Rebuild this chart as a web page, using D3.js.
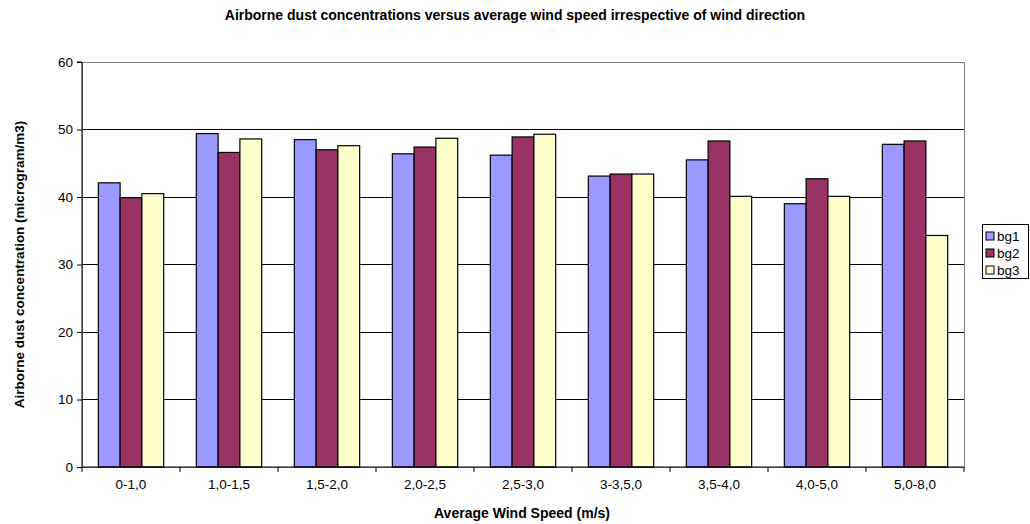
<!DOCTYPE html>
<html>
<head>
<meta charset="utf-8">
<script src="https://cdn.jsdelivr.net/npm/d3@7"></script>
<style>
  body { margin: 0; background: #fff; }
  svg { font-family: "Liberation Sans", Arial, sans-serif; }
</style>
</head>
<body>
<svg id="chart" width="1030" height="524"></svg>
<script>
// categories and series values
const categories = ["0-1,0", "1,0-1,5", "1,5-2,0", "2,0-2,5", "2,5-3,0", "3-3,5,0", "3,5-4,0", "4,0-5,0", "5,0-8,0"];
const seriesNames = ["bg1", "bg2", "bg3"];
const bg1 = [42.1, 49.4, 48.5, 46.4, 46.2, 43.1, 45.5, 39.0, 47.8];
const bg2 = [39.9, 46.6, 47.0, 47.4, 48.9, 43.4, 48.3, 42.7, 48.3];
const bg3 = [40.5, 48.6, 47.6, 48.7, 49.3, 43.4, 40.1, 40.1, 34.3];
const yTicks = [0, 10, 20, 30, 40, 50, 60];
const colors = ["#9999ff", "#993366", "#ffffcc"];

const values = [bg1, bg2, bg3];
const svg = d3.select("#chart");

// plot area
const plotL = 82, plotR = 964, plotT = 62, plotB = 467;

const x = d3.scaleBand().domain(categories).range([plotL, plotR]);
const x1 = d3.scaleBand().domain(seriesNames).range([0, x.bandwidth()]).paddingOuter(0.75);
const y = d3.scaleLinear().domain([0, 60]).range([plotB, plotT]);

// gridlines
svg.append("g").selectAll("line")
  .data(yTicks.filter(d => d > 0 && d < 60))
  .join("line")
  .attr("x1", plotL).attr("x2", plotR)
  .attr("y1", d => y(d)).attr("y2", d => y(d))
  .attr("stroke", "#000").attr("stroke-width", 1).attr("shape-rendering", "crispEdges");

// plot border (grey)
svg.append("rect")
  .attr("x", plotL).attr("y", plotT)
  .attr("width", plotR - plotL).attr("height", plotB - plotT)
  .attr("fill", "none").attr("stroke", "#808080").attr("stroke-width", 1)
  .attr("shape-rendering", "crispEdges");

// bars
const groups = svg.append("g").selectAll("g")
  .data(categories)
  .join("g")
  .attr("transform", d => `translate(${x(d)},0)`);

groups.selectAll("rect")
  .data((d, i) => seriesNames.map((s, j) => ({ s, v: values[j][i], c: colors[j] })))
  .join("rect")
  .attr("x", d => x1(d.s))
  .attr("width", x1.bandwidth())
  .attr("y", d => y(d.v))
  .attr("height", d => y(0) - y(d.v))
  .attr("fill", d => d.c)
  .attr("stroke", "#000")
  .attr("stroke-width", 1.2);

// axes
const yAxis = svg.append("g")
  .attr("transform", `translate(${plotL},0)`)
  .call(d3.axisLeft(y).tickValues(yTicks).tickSize(5).tickPadding(4));
const xAxis = svg.append("g")
  .attr("transform", `translate(0,${plotB})`)
  .call(d3.axisBottom(x).tickSize(0).tickPadding(12));

xAxis.selectAll(".tick").append("line")
  .attr("x1", -x.bandwidth() / 2).attr("x2", -x.bandwidth() / 2)
  .attr("y1", 0).attr("y2", 5)
  .attr("stroke", "#000");
xAxis.append("line")
  .attr("x1", plotR).attr("x2", plotR).attr("y1", 0).attr("y2", 5)
  .attr("stroke", "#000");

[yAxis, xAxis].forEach(a => {
  a.selectAll("text").attr("font-size", 13.5).attr("fill", "#000")
    .attr("font-family", "Liberation Sans, Arial, sans-serif");
  a.selectAll("line").attr("stroke", "#000");
  a.select(".domain").attr("stroke", "#000");
});
yAxis.select(".domain").attr("d", `M-5,${plotT}H0V${plotB}`);
xAxis.select(".domain").attr("d", `M${plotL},0H${plotR}`);

// titles
svg.append("text")
  .attr("x", 515).attr("y", 20)
  .attr("text-anchor", "middle")
  .attr("font-size", 14).attr("font-weight", "bold")
  .text("Airborne dust concentrations versus average wind speed irrespective of wind direction");

svg.append("text")
  .attr("x", 522).attr("y", 518)
  .attr("text-anchor", "middle")
  .attr("font-size", 14).attr("font-weight", "bold")
  .text("Average Wind Speed (m/s)");

svg.append("text")
  .attr("transform", `translate(24,${(plotT + plotB) / 2}) rotate(-90)`)
  .attr("text-anchor", "middle")
  .attr("font-size", 13.5).attr("font-weight", "bold")
  .text("Airborne dust concentration (microgram/m3)");

// legend
const lg = svg.append("g").attr("transform", "translate(982,224)");
lg.append("rect")
  .attr("width", 46).attr("height", 54)
  .attr("fill", "#fff").attr("stroke", "#000").attr("stroke-width", 1)
  .attr("shape-rendering", "crispEdges");
const items = lg.selectAll("g.item")
  .data(seriesNames)
  .join("g")
  .attr("class", "item")
  .attr("transform", (d, i) => `translate(4,${8 + i * 17})`);
items.append("rect")
  .attr("width", 8).attr("height", 8)
  .attr("fill", (d, i) => colors[i])
  .attr("stroke", "#000").attr("stroke-width", 1);
items.append("text")
  .attr("x", 11).attr("y", 9)
  .attr("font-size", 13.5)
  .text(d => d);
</script>
</body>
</html>
